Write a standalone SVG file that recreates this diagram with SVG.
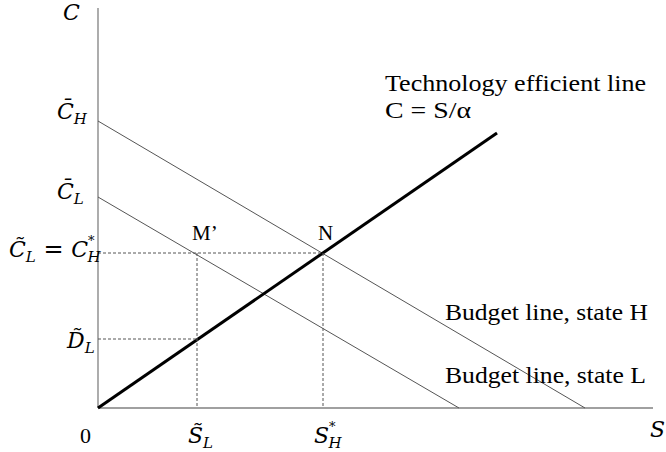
<svg xmlns="http://www.w3.org/2000/svg" width="666" height="452" viewBox="0 0 666 452">
<style>
.ax{stroke:#808080;stroke-width:1.3;fill:none}
.bl{stroke:#555;stroke-width:1;fill:none}
.tl{stroke:#000;stroke-width:3;fill:none}
.dash{stroke:#555;stroke-width:1;stroke-dasharray:3,2;fill:none}
.m{font-family:"DejaVu Serif","Liberation Serif",serif;font-style:italic;font-size:22px;fill:#000}
.t{font-family:"Liberation Serif","DejaVu Serif",serif;font-size:24px;fill:#000}
.s{font-size:15px}
.st{font-size:13px}
</style>
<rect width="666" height="452" fill="#fff"/>
<g id="connectors">
<line class="ax" x1="98" y1="8" x2="98" y2="408"/>
<line class="ax" x1="98" y1="408" x2="653" y2="408"/>
<line class="bl" x1="98" y1="121" x2="585" y2="408"/>
<line class="bl" x1="98" y1="197" x2="459" y2="408"/>
<line class="tl" x1="98" y1="408" x2="497" y2="133"/>
<line class="dash" x1="98" y1="253" x2="323" y2="253"/>
<line class="dash" x1="323" y1="253" x2="323" y2="408"/>
<line class="dash" x1="197" y1="253" x2="197" y2="408"/>
<line class="dash" x1="98" y1="339" x2="197" y2="339"/>
</g>
<g id="axis-labels">
<text class="m" x="63" y="20">C</text>
<text class="m" x="650" y="437">S</text>
<text class="t" x="80" y="443" style="font-size:22px">0</text>
</g>
<g id="y-labels">
<text id="CH" class="m" x="57" y="119">C̄<tspan class="s" dy="5">H</tspan></text>
<text id="CL" class="m" x="57" y="199">C̄<tspan class="s" dy="5">L</tspan></text>
<text id="CtL" class="m" x="9" y="257">C̃<tspan class="s" dy="5">L</tspan><tspan dy="-5" font-style="normal" font-size="24"> = </tspan>C<tspan class="st" dx="0" dy="-12">*</tspan><tspan class="s" dx="-7" dy="17">H</tspan></text>
<text id="DtL" class="m" x="67" y="348">D̃<tspan class="s" dy="5">L</tspan></text>
</g>
<g id="x-labels">
<text id="StL" class="m" x="188" y="443">S̃<tspan class="s" dy="5">L</tspan></text>
<text id="SH" class="m" x="314" y="443">S<tspan class="st" dx="0" dy="-12">*</tspan><tspan class="s" dx="-7" dy="17">H</tspan></text>
</g>
<g id="points">
<text class="t" x="192" y="240" style="font-size:21px">M’</text>
<text class="t" x="318" y="240" style="font-size:21px">N</text>
</g>
<g id="tech-label">
<text class="t" x="385" y="91" textLength="261" lengthAdjust="spacingAndGlyphs">Technology efficient line</text>
<text class="t" x="385" y="118" textLength="86" lengthAdjust="spacingAndGlyphs">C = S/α</text>
</g>
<g id="budget-labels">
<text class="t" x="445" y="320" textLength="203" lengthAdjust="spacingAndGlyphs">Budget line, state H</text>
<text class="t" x="445" y="383" textLength="201" lengthAdjust="spacingAndGlyphs">Budget line, state L</text>
</g>
</svg>
